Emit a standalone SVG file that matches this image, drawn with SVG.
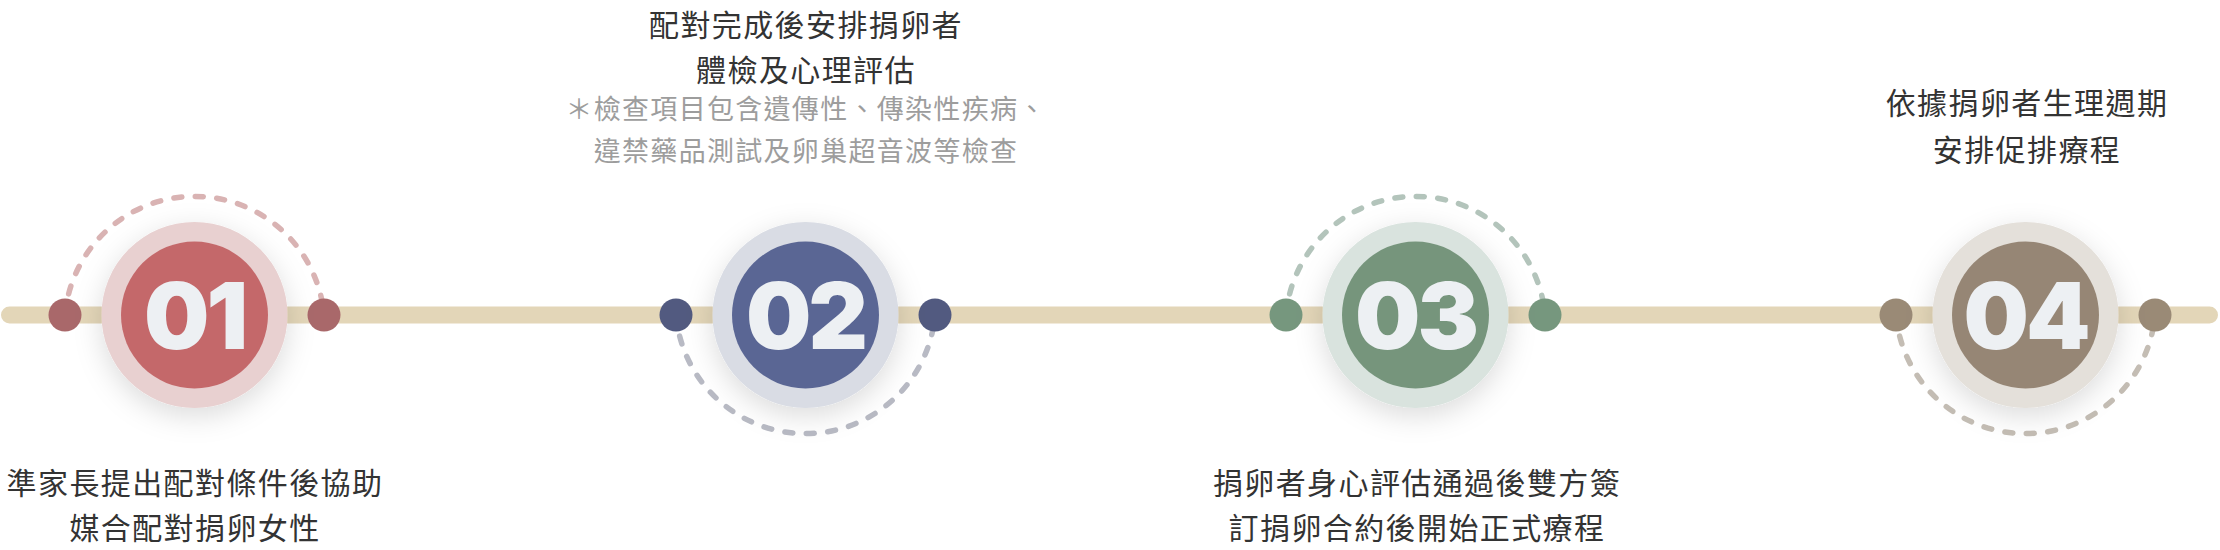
<svg xmlns="http://www.w3.org/2000/svg" width="2220" height="550" viewBox="0 0 2220 550">
<defs>
<filter id="sh" x="-50%" y="-50%" width="200%" height="200%">
<feDropShadow dx="0" dy="8" stdDeviation="14" flood-color="#000" flood-opacity="0.14"/>
</filter>
</defs>
<style>
.track{fill:none;stroke:#e3d6b8;stroke-width:17;stroke-linecap:round}
.arc{fill:none;stroke-width:5.5;stroke-linecap:round;stroke-dasharray:8 13.5}
.num{font-family:Inter,"Open Sans","Liberation Sans",sans-serif;font-weight:900;font-size:92px;fill:#edf0f3;text-anchor:middle;letter-spacing:-3px}
.t{font-family:"Noto Sans CJK TC","Noto Sans CJK SC",sans-serif;font-size:30px;fill:#333333;text-anchor:middle;letter-spacing:1.4px}
.g{font-family:"Noto Sans CJK TC","Noto Sans CJK SC",sans-serif;font-size:27px;fill:#9d9d9d;text-anchor:middle;letter-spacing:1.3px}
</style>
<g id="connectors">
<line class="track" x1="9.5" y1="315" x2="2209.5" y2="315"/>
<path class="arc" stroke="#d9b3b3" d="M65,315 A130,130 0 0 1 324,315"/>
<path class="arc" stroke="#b8bac4" d="M676,315 A130,130 0 0 0 935,315"/>
<path class="arc" stroke="#b3c4bb" d="M1286,315 A130,130 0 0 1 1545,315"/>
<path class="arc" stroke="#c4bdb4" d="M1896,315 A130,130 0 0 0 2155,315"/>
</g>
<g id="step1">
<circle cx="65" cy="315" r="16.5" fill="#a9686a"/>
<circle cx="324" cy="315" r="16.5" fill="#a9686a"/>
<circle cx="194.5" cy="315" r="93" fill="#e8d0d0" filter="url(#sh)"/>
<circle cx="194.5" cy="315" r="73.5" fill="#c4686a"/>
<text class="num" x="194.5" y="349">01</text>
<text class="t" x="195" y="494">準家長提出配對條件後協助</text>
<text class="t" x="195" y="539">媒合配對捐卵女性</text>
</g>
<g id="step2">
<circle cx="676" cy="315" r="16.5" fill="#525a80"/>
<circle cx="935" cy="315" r="16.5" fill="#525a80"/>
<circle cx="805.5" cy="315" r="93" fill="#d9dce4" filter="url(#sh)"/>
<circle cx="805.5" cy="315" r="73.5" fill="#5a6694"/>
<text class="num" x="805.5" y="349">02</text>
<text class="t" x="806" y="36">配對完成後安排捐卵者</text>
<text class="t" x="806" y="81">體檢及心理評估</text>
<text class="g" x="806" y="119">＊檢查項目包含遺傳性、傳染性疾病、</text>
<text class="g" x="806" y="161">違禁藥品測試及卵巢超音波等檢查</text>
</g>
<g id="step3">
<circle cx="1286" cy="315" r="16.5" fill="#76977e"/>
<circle cx="1545" cy="315" r="16.5" fill="#76977e"/>
<circle cx="1415.5" cy="315" r="93" fill="#d9e3de" filter="url(#sh)"/>
<circle cx="1415.5" cy="315" r="73.5" fill="#76957c"/>
<text class="num" x="1415.5" y="349">03</text>
<text class="t" x="1417" y="494">捐卵者身心評估通過後雙方簽</text>
<text class="t" x="1417" y="539">訂捐卵合約後開始正式療程</text>
</g>
<g id="step4">
<circle cx="1896" cy="315" r="16.5" fill="#9a8a76"/>
<circle cx="2155" cy="315" r="16.5" fill="#9a8a76"/>
<circle cx="2025.5" cy="315" r="93" fill="#e4e0da" filter="url(#sh)"/>
<circle cx="2025.5" cy="315" r="73.5" fill="#968675"/>
<text class="num" x="2025.5" y="349">04</text>
<text class="t" x="2027" y="114">依據捐卵者生理週期</text>
<text class="t" x="2027" y="161">安排促排療程</text>
</g>
</svg>
